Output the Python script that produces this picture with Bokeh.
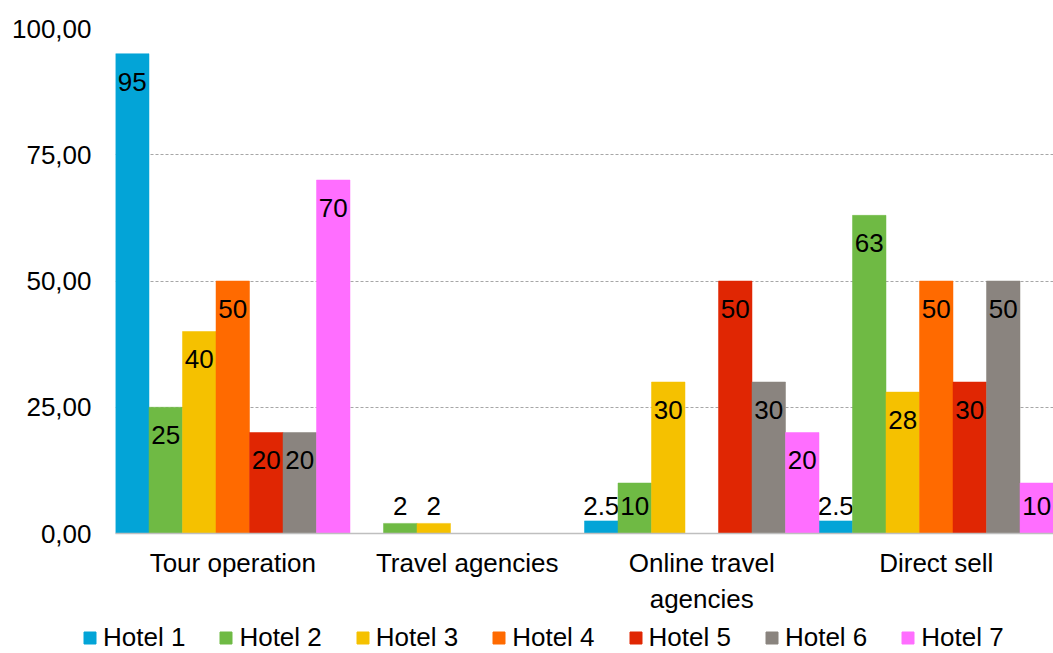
from bokeh.plotting import figure
from bokeh.layouts import column
from bokeh.models import ColumnDataSource, FactorRange, Range1d, FixedTicker, Legend, LegendItem
from bokeh.transform import dodge
from bokeh.core.properties import value
from bokeh.embed import file_html
from bokeh.resources import INLINE

categories = ["Tour operation", "Travel agencies", "Online travel\nagencies", "Direct sell"]
hotels = ["Hotel 1", "Hotel 2", "Hotel 3", "Hotel 4", "Hotel 5", "Hotel 6", "Hotel 7"]
hotel_1 = [95, 0, 2.5, 2.5]
hotel_2 = [25, 2, 10, 63]
hotel_3 = [40, 2, 30, 28]
hotel_4 = [50, 0, 0, 50]
hotel_5 = [20, 0, 50, 30]
hotel_6 = [20, 0, 30, 50]
hotel_7 = [70, 0, 20, 10]
series = [hotel_1, hotel_2, hotel_3, hotel_4, hotel_5, hotel_6, hotel_7]
colors = ["#03A4D7", "#6FBA44", "#F5C100", "#FF6A00", "#E02603", "#8A847F", "#FF6EFF"]
y_ticks = [0, 25, 50, 75, 100]
y_tick_labels = ["0,00", "25,00", "50,00", "75,00", "100,00"]

FONT = "Liberation Sans"
FS = "26px"

p = figure(x_range=FactorRange(*categories, range_padding=0), y_range=Range1d(0, 100),
           width=1053, height=616, output_backend="svg", toolbar_location=None,
           min_border_left=115, min_border_right=0, min_border_top=28, min_border_bottom=83)
p.frame_align = False
p.outline_line_color = None
p.background_fill_color = "white"
p.border_fill_color = "white"

n = len(series)
bw = 1.0 / n
lab_off = 5.5  # in-bar label offset below bar top (data units)

for i, (vals, col) in enumerate(zip(series, colors)):
    off = (i - (n - 1) / 2) * bw
    src = ColumnDataSource(dict(cat=categories, v=vals))
    p.vbar(x=dodge("cat", off, range=p.x_range), top="v", width=bw, source=src,
           fill_color=col, line_color=col, line_width=0.5)
    lc, lv, lt = [], [], []
    for c, v in zip(categories, vals):
        if v != 0:
            lc.append(c)
            lv.append(max(v - lab_off, lab_off))
            lt.append(str(int(v)) if float(v).is_integer() else str(v))
    lsrc = ColumnDataSource(dict(cat=lc, y=lv, t=lt))
    p.text(x=dodge("cat", off, range=p.x_range), y="y", text="t", source=lsrc,
           text_font=value(FONT), text_font_size=FS, text_color="black",
           text_align="center", text_baseline="middle")

p.yaxis.ticker = FixedTicker(ticks=y_ticks)
p.yaxis.major_label_overrides = {t: l for t, l in zip(y_ticks, y_tick_labels)}
p.yaxis.axis_line_color = None
p.yaxis.major_tick_line_color = None
p.yaxis.minor_tick_line_color = None
p.yaxis.major_tick_out = 0
p.yaxis.major_label_standoff = 24
p.yaxis.major_label_text_font = FONT
p.yaxis.major_label_text_font_size = FS
p.yaxis.major_label_text_color = "black"

p.xaxis.axis_line_color = "#BFBFBF"
p.xaxis.axis_line_width = 1.5
p.xaxis.major_tick_line_color = None
p.xaxis.minor_tick_line_color = None
p.xaxis.major_tick_out = 0
p.xaxis.major_label_standoff = 14
p.xaxis.major_label_text_font = FONT
p.xaxis.major_label_text_font_size = FS
p.xaxis.major_label_text_color = "black"

p.xgrid.grid_line_color = None
p.ygrid.grid_line_color = "#A6A6A6"
p.ygrid.grid_line_dash = "3 2"
p.ygrid.grid_line_width = 1

# legend strip below the chart
lp = figure(width=1053, height=37, output_backend="svg", toolbar_location=None,
            x_range=Range1d(0, 1), y_range=Range1d(0, 1),
            x_axis_location=None, y_axis_location=None,
            min_border_left=0, min_border_right=0, min_border_top=0, min_border_bottom=0)
lp.frame_align = False
lp.outline_line_color = None
lp.xgrid.grid_line_color = None
lp.ygrid.grid_line_color = None
items = []
for name, col in zip(hotels, colors):
    # legend swatch carrier, placed outside the visible range
    r = lp.vbar(x=[5], top=[1], width=0.5, fill_color=col, line_color=col)
    items.append(LegendItem(label=name, renderers=[r]))
legend = Legend(items=items, orientation="horizontal", location=(82, 0),
                glyph_width=15, glyph_height=15, label_standoff=6, spacing=33,
                padding=0, margin=0, border_line_color=None, background_fill_alpha=0,
                label_text_font=FONT, label_text_font_size=FS, label_text_color="black")
lp.add_layout(legend)

layout = column(p, lp, spacing=0)
open("out.html", "w").write(file_html(layout, INLINE))
